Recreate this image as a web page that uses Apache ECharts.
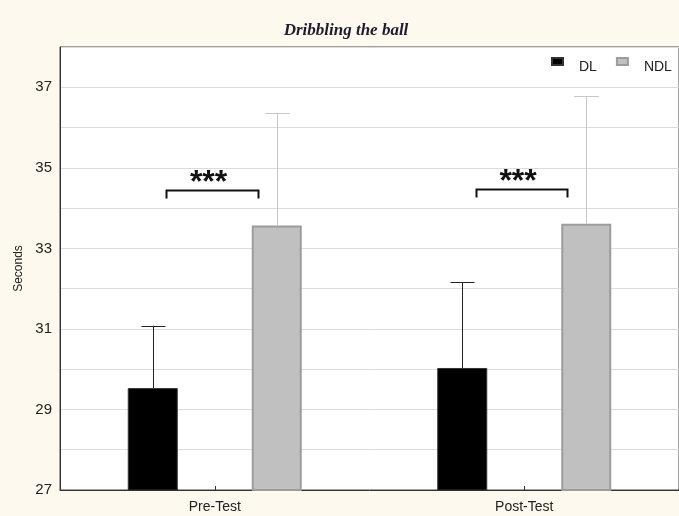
<!DOCTYPE html>
<html>
<head>
<meta charset="utf-8">
<style>
  html, body { margin: 0; padding: 0; background: #fdf9ef; }
  #chart { width: 679px; height: 516px; }
</style>
<script src="https://cdn.jsdelivr.net/npm/echarts@6/dist/echarts.min.js"></script>
</head>
<body>
<div id="chart"></div>
<script>
// Dribbling time (seconds): group means with standard deviations
const categories = ['Pre-Test', 'Post-Test'];
const seriesNames = ['DL', 'NDL'];
const dlMeans = [29.53, 30.03];
const dlSD = [1.55, 2.13];
const ndlMeans = [33.57, 33.61];
const ndlSD = [2.80, 3.17];
// significance brackets: height of bracket and label per category
const sigLevels = [34.46, 34.48];
const sigLabels = ['***', '***'];
const yTickLabels = [27, 29, 31, 33, 35, 37];

const BAR_W = 50;
const BAR_GAP = 74;          // px between the two bars of a group
const barOffset = (BAR_W + BAR_GAP) / 2;

function errorBarSeries(means, sds, sign, color, capW) {
  return {
    type: 'custom',
    name: 'err',
    silent: true,
    z: 5,
    data: means.map((m, i) => [i, m, m + sds[i]]),
    renderItem: function (params, api) {
      const i = api.value(0);
      const base = api.coord([i, api.value(1)]);
      const top = api.coord([i, api.value(2)]);
      const x = Math.round(base[0] + sign * barOffset) + 0.5;
      const style = { stroke: color, lineWidth: 1 };
      return {
        type: 'group',
        children: [
          { type: 'line', shape: { x1: x, y1: base[1], x2: x, y2: top[1] }, style: style },
          { type: 'line', shape: { x1: x - capW / 2, y1: Math.round(top[1]) + 0.5, x2: x + capW / 2, y2: Math.round(top[1]) + 0.5 }, style: style }
        ]
      };
    }
  };
}

const chart = echarts.init(document.getElementById('chart'));
chart.setOption({
  backgroundColor: '#fdf9ef',
  animation: false,
  title: {
    text: 'Dribbling the ball',
    left: 341,
    textAlign: 'center',
    top: 17,
    textStyle: {
      fontFamily: 'Liberation Serif',
      fontStyle: 'italic',
      fontWeight: 'bold',
      fontSize: 17,
      color: '#1c1c2c'
    }
  },
  legend: {
    data: seriesNames,
    left: 551,
    top: 57,
    padding: 0,
    itemWidth: 11,
    itemHeight: 7,
    itemGap: 19,
    icon: 'rect',
    formatter: '{t|{name}}',
    textStyle: {
      rich: {
        t: {
          fontFamily: 'Liberation Sans',
          fontSize: 14,
          color: '#222',
          padding: [12, 0, 0, 11]
        }
      }
    }
  },
  grid: {
    left: 60,
    top: 47,
    width: 620,
    height: 443,
    show: true,
    backgroundColor: '#ffffff',
    borderColor: '#444',
    borderWidth: 1
  },
  xAxis: {
    type: 'category',
    data: categories,
    axisLine: { lineStyle: { color: '#333', width: 1 } },
    axisTick: { show: true, inside: true, alignWithLabel: true, length: 4, lineStyle: { color: '#333' } },
    axisLabel: { fontFamily: 'Liberation Sans', fontSize: 14, color: '#222', margin: 10 }
  },
  yAxis: {
    type: 'value',
    min: 27,
    max: 38,
    interval: 1,
    name: 'Seconds',
    nameLocation: 'middle',
    nameGap: 33,
    nameTextStyle: { fontFamily: 'Liberation Sans', fontSize: 12, color: '#222' },
    axisLine: { show: true, lineStyle: { color: '#333', width: 1 } },
    axisTick: { show: false },
    axisLabel: {
      fontFamily: 'Liberation Sans',
      fontSize: 15,
      color: '#222',
      margin: 8,
      formatter: function (v) { return yTickLabels.indexOf(v) >= 0 ? String(v) : ''; }
    },
    splitLine: { show: true, lineStyle: { color: '#dcdcdc', width: 1 } }
  },
  series: [
    {
      name: 'DL',
      type: 'bar',
      data: dlMeans,
      barWidth: BAR_W,
      barGap: (BAR_GAP / BAR_W * 100) + '%',
      itemStyle: { color: '#000000', borderColor: '#333', borderWidth: 1 },
      z: 3
    },
    {
      name: 'NDL',
      type: 'bar',
      data: ndlMeans,
      barWidth: BAR_W,
      itemStyle: { color: '#c0c0c0', borderColor: '#9c9c9c', borderWidth: 2 },
      z: 3
    },
    errorBarSeries(dlMeans, dlSD, -1, '#222222', 24),
    errorBarSeries(ndlMeans, ndlSD, 1, '#c8c8c8', 25),
    {
      type: 'custom',
      name: 'sig',
      silent: true,
      z: 6,
      data: sigLevels.map((v, i) => [i, v, sigLabels[i]]),
      renderItem: function (params, api) {
        const i = api.value(0);
        const p = api.coord([i, api.value(1)]);
        const band = api.size([1, 0])[0];
        const x1 = Math.round(p[0] - band * 0.156) + 0.5;
        const x2 = Math.round(p[0] + band * 0.139) + 0.5;
        const y = Math.round(p[1]) + 0.5;
        const style = { stroke: '#111', lineWidth: 2, fill: null };
        return {
          type: 'group',
          children: [
            { type: 'polyline', shape: { points: [[x1, y + 8], [x1, y], [x2, y], [x2, y + 8]] }, style: style },
            {
              type: 'text',
              style: {
                text: sigLabels[i],
                x: p[0] - band * 0.02,
                y: y + 9,
                align: 'center',
                verticalAlign: 'bottom',
                font: 'bold 32px "Liberation Sans"',
                fill: '#111'
              }
            }
          ]
        };
      }
    }
  ]
});
</script>
</body>
</html>
